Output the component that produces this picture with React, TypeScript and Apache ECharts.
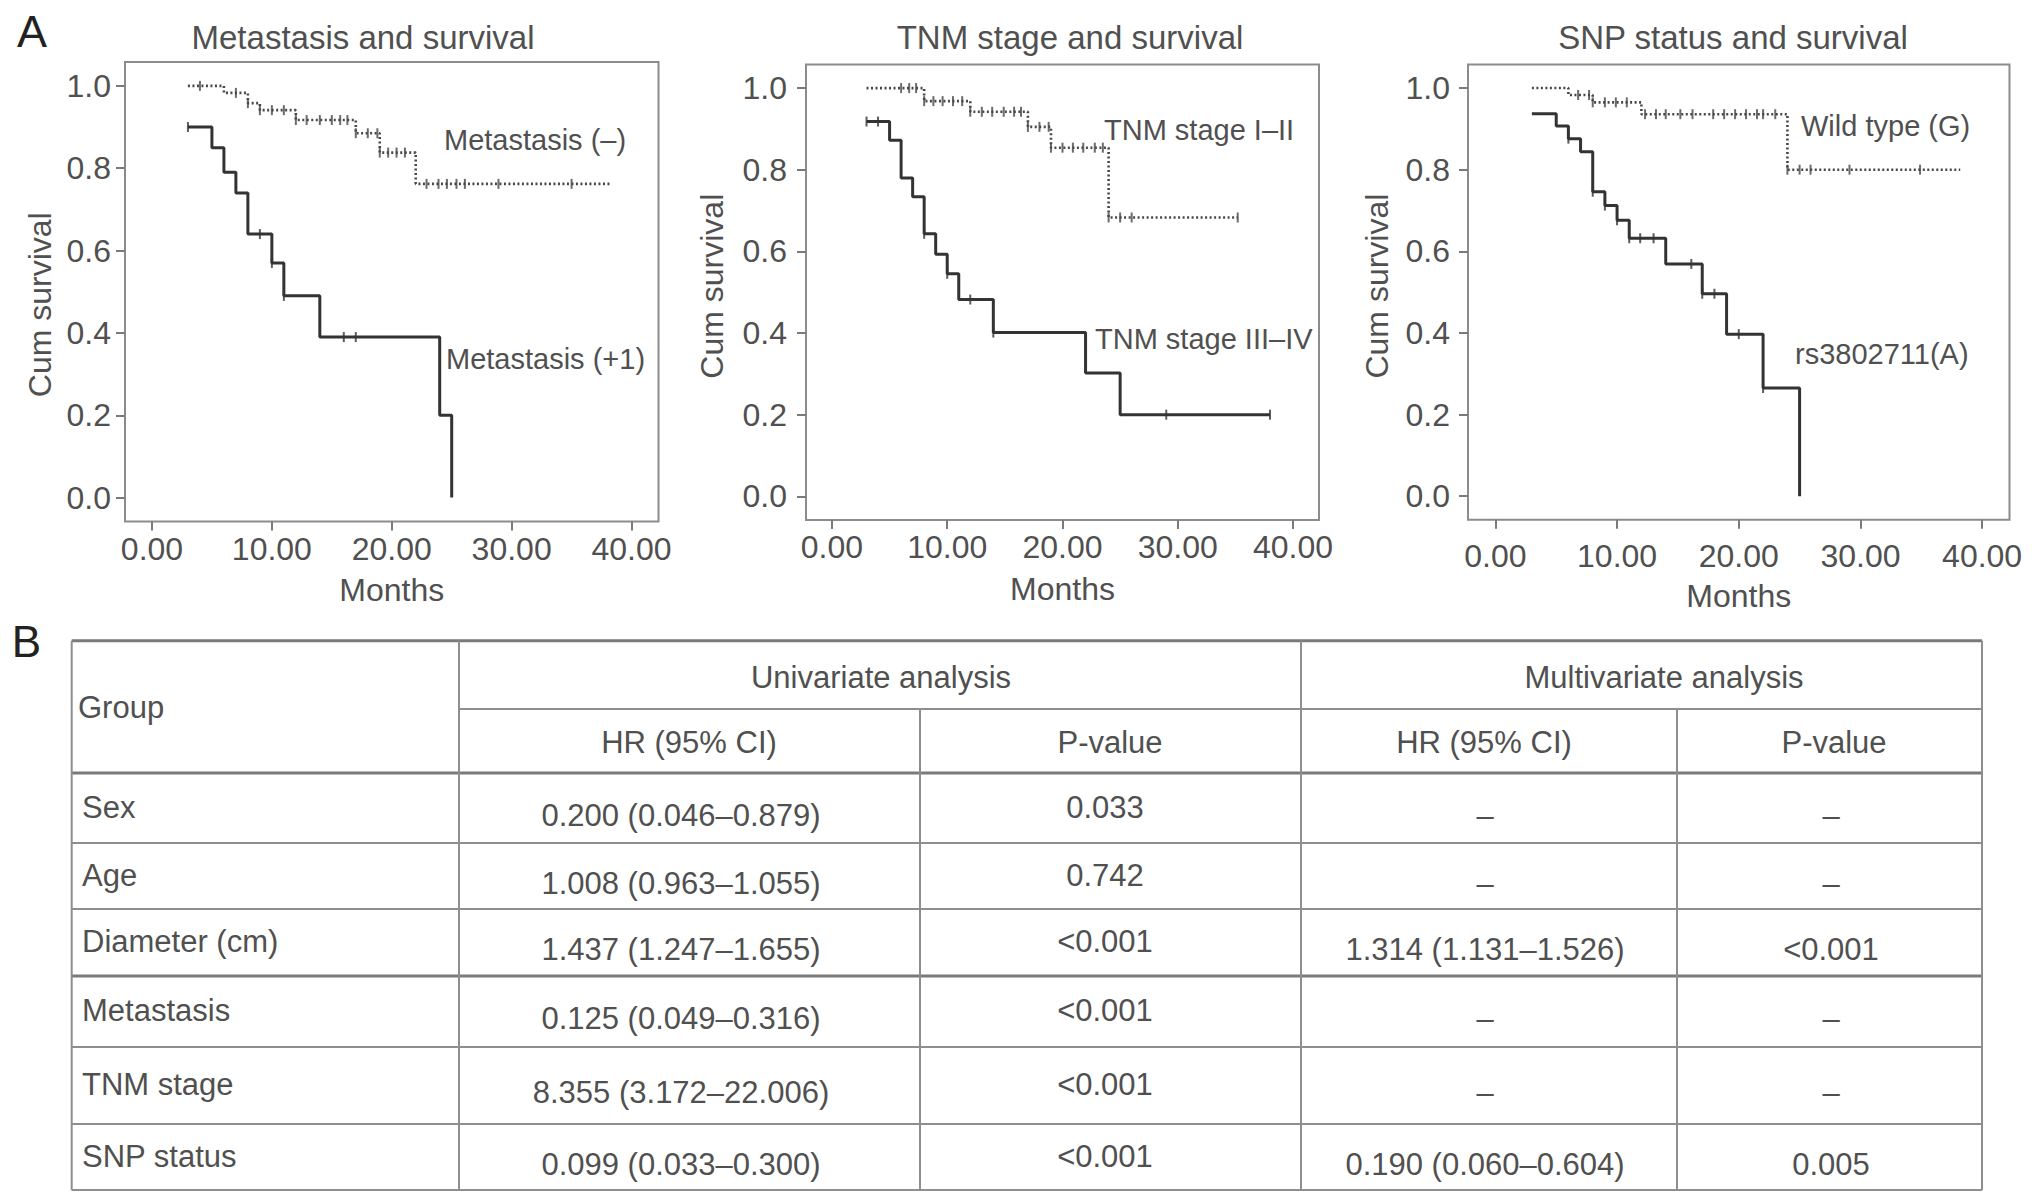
import React, { useEffect, useRef } from "react";
import * as echarts from "echarts";

// ---------- Data ----------
const xTicks = [0, 10, 20, 30, 40];
const yTicks = [0, 0.2, 0.4, 0.6, 0.8, 1.0];

// Panel 1: Metastasis and survival
const metPosTime = [3, 5, 6, 7, 8, 10, 11, 14, 24, 25];
const metPosSurv = [0.9, 0.85, 0.79, 0.74, 0.64, 0.57, 0.49, 0.39, 0.2, 0.0];
const metPosCensor = [3, 9, 10, 11, 16, 17];
const metNegTime = [3, 6, 8, 9, 12, 17, 19, 22, 38.2];
const metNegSurv = [1.0, 0.983, 0.958, 0.941, 0.917, 0.885, 0.838, 0.762, 0.762];
const metNegCensor = [4, 7, 8, 9, 10, 11, 12, 12.9, 14, 15, 15.7, 16.3, 17, 18, 18.8, 19, 19.7, 20.4, 21.1, 22.9, 23.9, 24.6, 25.4, 26.1, 28.9, 35];

// Panel 2: TNM stage and survival
const tnmHiTime = [3, 5, 6, 7, 8, 9, 10, 11, 14, 22, 25, 38];
const tnmHiSurv = [0.918, 0.872, 0.78, 0.734, 0.643, 0.593, 0.545, 0.482, 0.401, 0.302, 0.2, 0.2];
const tnmHiCensor = [3, 4, 8, 10, 12, 14, 29, 38];
const tnmLoTime = [3, 8, 12, 17, 19, 24, 35.2];
const tnmLoSurv = [1.0, 0.968, 0.942, 0.905, 0.854, 0.683, 0.683];
const tnmLoCensor = [6, 6.7, 7.3, 8, 8.8, 9.6, 10.5, 11.3, 12, 13, 13.9, 14.9, 15.8, 16.4, 17, 18, 18.8, 19, 20, 20.9, 21.8, 22.8, 23.5, 24, 25, 26, 35.2];

// Panel 3: SNP status and survival
const snpATime = [3, 5, 6, 7, 8, 9, 10, 11, 14, 17, 19, 22, 25];
const snpASurv = [0.937, 0.907, 0.876, 0.844, 0.746, 0.712, 0.676, 0.632, 0.569, 0.496, 0.397, 0.265, 0.0];
const snpACensor = [6, 8, 9, 10, 11, 11.9, 13, 16.1, 17, 18, 20, 22];
const snpGTime = [3, 6, 8, 12, 24, 38.2];
const snpGSurv = [1.0, 0.983, 0.965, 0.936, 0.8, 0.8];
const snpGCensor = [6.8, 7.7, 8, 9, 9.9, 10.8, 12.3, 13.2, 14, 15.2, 16.2, 17.9, 18.8, 19.7, 20.6, 21.5, 22, 23, 24, 25, 25.9, 29.1, 34.9];

// Table B
const tableGroups = ["Sex", "Age", "Diameter (cm)", "Metastasis", "TNM stage", "SNP status"];
const uniHR = ["0.200 (0.046–0.879)", "1.008 (0.963–1.055)", "1.437 (1.247–1.655)", "0.125 (0.049–0.316)", "8.355 (3.172–22.006)", "0.099 (0.033–0.300)"];
const uniP = ["0.033", "0.742", "<0.001", "<0.001", "<0.001", "<0.001"];
const multiHR = ["–", "–", "1.314 (1.131–1.526)", "–", "–", "0.190 (0.060–0.604)"];
const multiP = ["–", "–", "<0.001", "–", "–", "0.005"];

// ---------- Helpers ----------
const stepData = (t: number[], s: number[]) => t.map((v, i) => [v, s[i]]);
const censorData = (t: number[], s: number[], c: number[]) =>
  c.map((ct) => {
    let v = s[0];
    for (let i = 0; i < t.length; i++) if (t[i] <= ct) v = s[i];
    return [ct, v];
  });

const FONT = "'Liberation Sans', Arial, Helvetica, sans-serif";
const TXT = "#505050";
const SOLID = "#333333";
const DOTTED = "#474747";

const panels = [
  {
    title: "Metastasis and survival", titleX: 363,
    grid: { left: 125, top: 62, width: 533.5, height: 459.5 },
    xMargin: 11, yMargin: 14, xNameGap: 52, yNameGap: 69, yNamePad: [0, 26, 0, 0],
    solid: [metPosTime, metPosSurv, metPosCensor],
    dotted: [metNegTime, metNegSurv, metNegCensor],
    labels: [
      { text: "Metastasis (–)", x: 444, y: 140 },
      { text: "Metastasis (+1)", x: 446, y: 359 },
    ],
  },
  {
    title: "TNM stage and survival", titleX: 1070,
    grid: { left: 806, top: 64.4, width: 513, height: 455.6 },
    xMargin: 11, yMargin: 19, xNameGap: 53, yNameGap: 78, yNamePad: [0, 0, 0, 12],
    solid: [tnmHiTime, tnmHiSurv, tnmHiCensor],
    dotted: [tnmLoTime, tnmLoSurv, tnmLoCensor],
    labels: [
      { text: "TNM stage I–II", x: 1104, y: 130 },
      { text: "TNM stage III–IV", x: 1095, y: 339 },
    ],
  },
  {
    title: "SNP status and survival", titleX: 1733,
    grid: { left: 1468, top: 64.4, width: 541.5, height: 455.4 },
    xMargin: 20, yMargin: 18, xNameGap: 60, yNameGap: 75, yNamePad: [0, 0, 0, 12],
    solid: [snpATime, snpASurv, snpACensor],
    dotted: [snpGTime, snpGSurv, snpGCensor],
    labels: [
      { text: "Wild type (G)", x: 1801, y: 126 },
      { text: "rs3802711(A)", x: 1795, y: 354 },
    ],
  },
];

const txt = (text: string, x: number, y: number, size: number, align = "left", fill = TXT) => ({
  type: "text",
  x,
  y,
  silent: true,
  style: {
    text,
    fill,
    fontSize: size,
    fontFamily: FONT,
    align,
    verticalAlign: "middle",
    textAlign: align,
    textVerticalAlign: "middle",
  },
});

const hline = (x1: number, x2: number, y: number, w = 2, c = "#8e8e8e") => ({
  type: "line",
  silent: true,
  shape: { x1, y1: y, x2, y2: y },
  style: { stroke: c, lineWidth: w },
});
const vline = (x: number, y1: number, y2: number, w = 2, c = "#8e8e8e") => ({
  type: "line",
  silent: true,
  shape: { x1: x, y1, x2: x, y2 },
  style: { stroke: c, lineWidth: w },
});

function buildOption() {
  const grid: any[] = [];
  const xAxis: any[] = [];
  const yAxis: any[] = [];
  const series: any[] = [];
  const graphic: any[] = [];

  panels.forEach((p, i) => {
    grid.push({
      ...p.grid,
      show: true,
      borderColor: "#8c8c8c",
      borderWidth: 2,
      backgroundColor: "transparent",
      containLabel: false,
      outerBoundsMode: "none",
    });
    xAxis.push({
      gridIndex: i,
      type: "value",
      min: -2.25,
      max: 42.25,
      axisLine: { show: false, onZero: false },
      splitLine: { show: false },
      axisTick: { show: true, customValues: xTicks, length: 9, lineStyle: { color: "#7a7a7a", width: 2 } },
      axisLabel: {
        customValues: xTicks,
        formatter: (v: number) => v.toFixed(2),
        fontSize: 32,
        fontFamily: FONT,
        color: TXT,
        margin: p.xMargin,
      },
      name: "Months",
      nameLocation: "middle",
      nameGap: p.xNameGap,
      nameTextStyle: { fontSize: 32, fontFamily: FONT, color: TXT },
    });
    yAxis.push({
      gridIndex: i,
      type: "value",
      min: -0.058,
      max: 1.058,
      axisLine: { show: false, onZero: false },
      splitLine: { show: false },
      axisTick: { show: true, customValues: yTicks, length: 9, lineStyle: { color: "#7a7a7a", width: 2 } },
      axisLabel: {
        customValues: yTicks,
        formatter: (v: number) => v.toFixed(1),
        fontSize: 32,
        fontFamily: FONT,
        color: TXT,
        margin: p.yMargin,
      },
      name: "Cum survival",
      nameLocation: "middle",
      nameGap: p.yNameGap,
      nameTextStyle: { fontSize: 32, fontFamily: FONT, color: TXT, padding: p.yNamePad },
    });

    const [dt, ds, dc] = p.dotted as number[][];
    const [st, ss, sc] = p.solid as number[][];
    series.push({
      type: "line",
      xAxisIndex: i,
      yAxisIndex: i,
      step: "end",
      symbol: "none",
      silent: true,
      data: stepData(dt, ds),
      lineStyle: { color: DOTTED, width: 2.6, type: [2, 2.5] },
      z: 2,
    });
    series.push({
      type: "line",
      xAxisIndex: i,
      yAxisIndex: i,
      step: "end",
      symbol: "none",
      silent: true,
      data: stepData(st, ss),
      lineStyle: { color: SOLID, width: 3 },
      z: 3,
    });
    series.push({
      type: "scatter",
      xAxisIndex: i,
      yAxisIndex: i,
      silent: true,
      symbol: "rect",
      symbolSize: [2, 10],
      itemStyle: { color: DOTTED },
      data: censorData(dt, ds, dc),
      z: 4,
    });
    series.push({
      type: "scatter",
      xAxisIndex: i,
      yAxisIndex: i,
      silent: true,
      symbol: "rect",
      symbolSize: [2, 10],
      itemStyle: { color: SOLID },
      data: censorData(st, ss, sc),
      z: 4,
    });

    graphic.push(txt(p.title, p.titleX, 37.5, 33, "center"));
    p.labels.forEach((l) => graphic.push(txt(l.text, l.x, l.y, 29, "left")));
  });

  // Panel letters
  graphic.push(txt("A", 32, 31, 45, "center", "#222"));
  graphic.push(txt("B", 26.5, 641, 44, "center", "#222"));

  // Table geometry
  const colX = [71.7, 459, 920, 1301, 1677, 1982];
  const top = 640.7;
  const subY = 709;
  const rowY = [773, 843, 909, 976, 1047, 1124, 1190];
  const bottom = rowY[rowY.length - 1];
  const thickRows = [0, 3];

  graphic.push(hline(colX[0], colX[5], top, 3, "#7a7a7a"));
  graphic.push(hline(colX[1], colX[5], subY, 2));
  rowY.forEach((y, i) => {
    const thick = thickRows.includes(i);
    graphic.push(hline(colX[0], colX[5], y, thick ? 3 : 2, thick ? "#7a7a7a" : "#8e8e8e"));
  });
  graphic.push(vline(colX[0], top, bottom));
  graphic.push(vline(colX[1], top, bottom));
  graphic.push(vline(colX[2], subY, bottom));
  graphic.push(vline(colX[3], top, bottom));
  graphic.push(vline(colX[4], subY, bottom));
  graphic.push(vline(colX[5], top, bottom));

  // Header texts
  graphic.push(txt("Group", 78, 707, 31, "left"));
  graphic.push(txt("Univariate analysis", 881, 677, 31, "center"));
  graphic.push(txt("Multivariate analysis", 1664, 677, 31, "center"));
  graphic.push(txt("HR (95% CI)", 689, 742, 31, "center"));
  graphic.push(txt("P-value", 1110, 742, 31, "center"));
  graphic.push(txt("HR (95% CI)", 1484, 742, 31, "center"));
  graphic.push(txt("P-value", 1834, 742, 31, "center"));

  // Body texts
  tableGroups.forEach((g, i) => {
    const c = (rowY[i] + rowY[i + 1]) / 2;
    graphic.push(txt(g, 82, c - 1, 31, "left"));
    graphic.push(txt(uniHR[i], 681, c + 7, 31, "center"));
    graphic.push(txt(uniP[i], 1105, c - 1, 31, "center"));
    graphic.push(txt(multiHR[i], 1485, c + 7, 31, "center"));
    graphic.push(txt(multiP[i], 1831, c + 7, 31, "center"));
  });

  return {
    animation: false,
    backgroundColor: "#ffffff",
    textStyle: { fontFamily: FONT },
    grid,
    xAxis,
    yAxis,
    series,
    graphic: { elements: graphic },
  };
}

export default function App() {
  const ref = useRef<HTMLDivElement>(null);
  useEffect(() => {
    if (!ref.current) return;
    const chart = echarts.init(ref.current, undefined, { renderer: "svg" });
    chart.setOption(buildOption() as any);
    return () => chart.dispose();
  }, []);
  return (
    <div
      ref={ref}
      style={{ position: "absolute", left: 0, top: 0, width: 2032, height: 1203, background: "#fff" }}
    />
  );
}
